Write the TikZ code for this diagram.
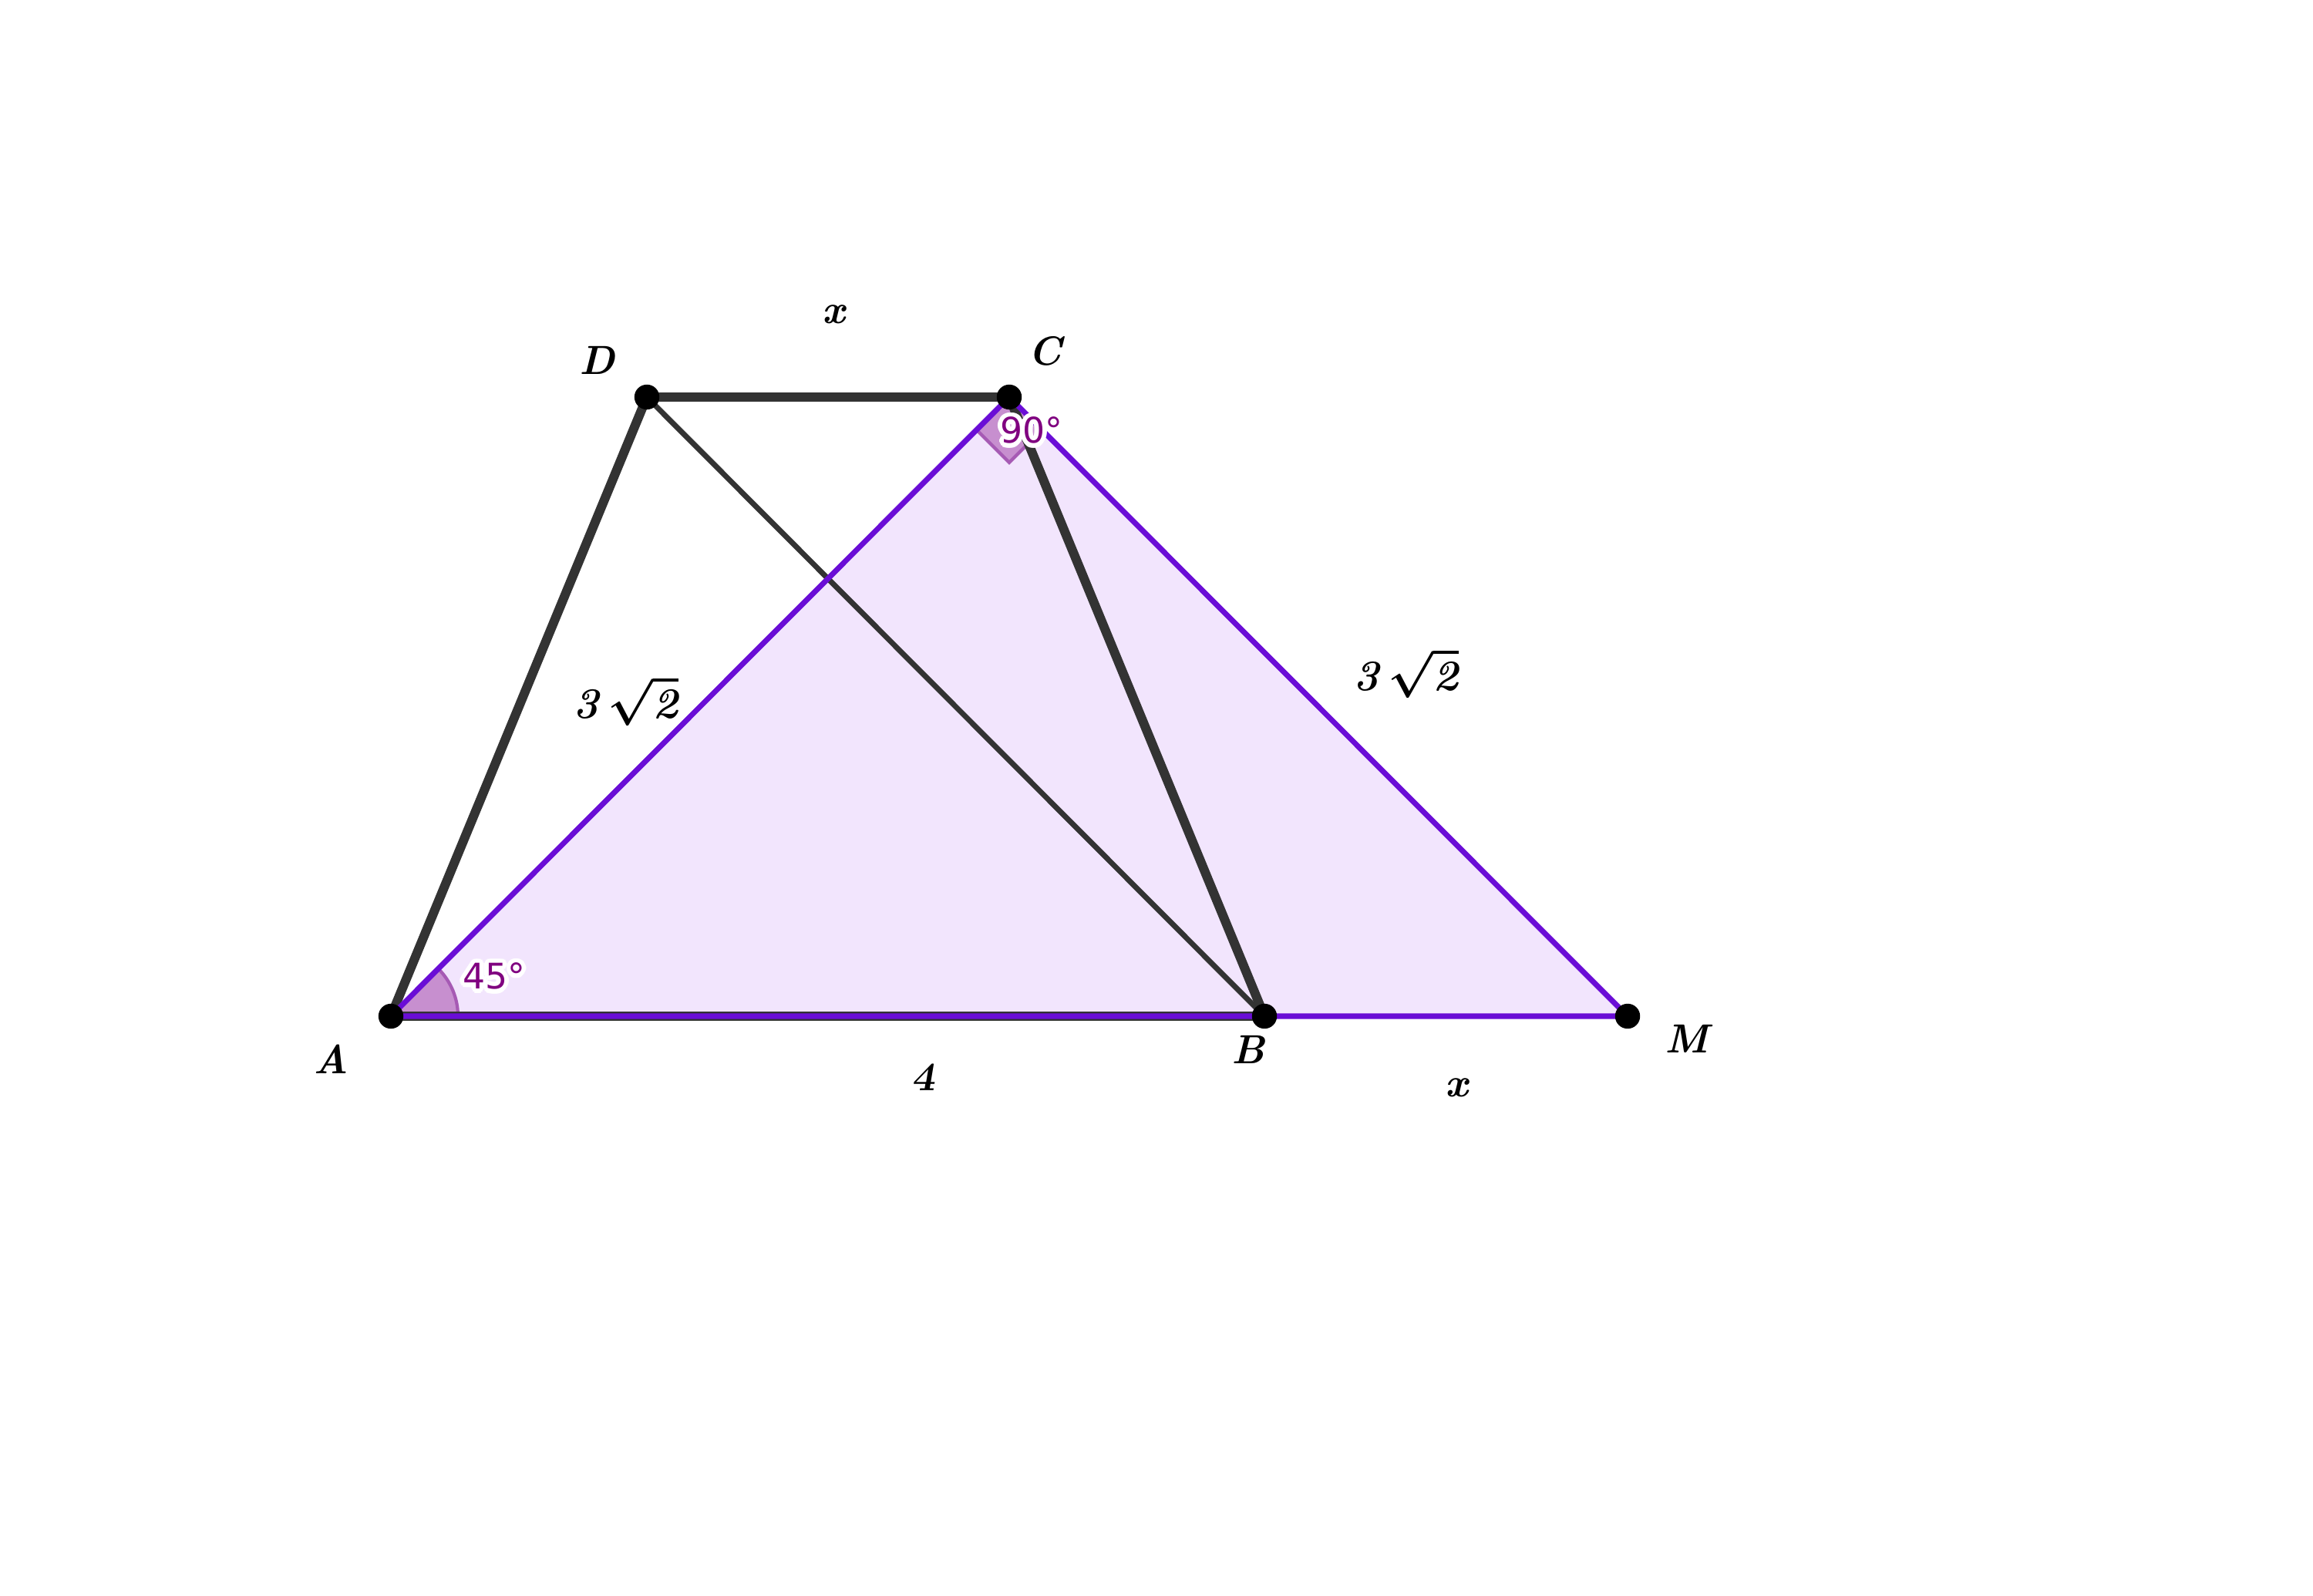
\documentclass[tikz,border=0pt]{standalone}
\usepackage{fontspec}
\newfontfamily\angfont{DejaVu Sans}
\usepackage[copies]{contour}
\contourlength{1.6pt}
\definecolor{edgepurple}{HTML}{6A0DD6}
\definecolor{fillpurple}{HTML}{F2E5FD}
\definecolor{angfill}{HTML}{C78FCF}
\definecolor{angedge}{HTML}{A65AB4}
\definecolor{angtext}{HTML}{800080}
\definecolor{segdark}{HTML}{333333}
\newcommand{\lbl}[1]{{\fontsize{15}{18}\selectfont\bfseries\itshape #1}}
\newcommand{\rootlbl}{{\fontsize{16}{19}\selectfont\boldmath\bfseries\itshape 3$\,\sqrt{\mbox{\bfseries\itshape 2}}$}}
\begin{document}
\begin{tikzpicture}[
  thickseg/.style={draw=segdark, line width=3.4pt},
  thinseg/.style={draw=segdark, line width=2pt},
  purpleedge/.style={draw=edgepurple, line width=2pt},
  angmark/.style={fill=angfill, draw=angedge, line width=1.2pt},
  angtxt/.style={text=angtext, font=\angfont\fontsize{13}{15}\selectfont},
  pt/.style={fill=black}
]
\useasboundingbox (0,0) rectangle (30,20.69);
\coordinate (A) at (5.07,7.51);
\coordinate (B) at (16.40,7.51);
\coordinate (C) at (13.09,15.54);
\coordinate (D) at (8.39,15.54);
\coordinate (M) at (21.11,7.51);
% triangle ACM
\fill[fillpurple] (A)--(C)--(M)--cycle;
% angle marks
\draw[angmark] (A)--++(0.87,0) arc[start angle=0,end angle=45,radius=0.87]--cycle;
\draw[angmark] (C)--++(225:0.6)--++(315:0.6)--++(45:0.6)--cycle;
% trapezium and diagonal
\draw[thickseg] (A)--(B);
\draw[thickseg] (A)--(D)--(C)--(B);
\draw[thinseg] (D)--(B);
\draw[purpleedge] (A)--(C)--(M)--cycle;
\foreach \p in {A,B,C,D,M}
  \filldraw[pt] (\p) circle[radius=1.55mm];
\node[angtxt] (a45) at (6.41,8.00) {\contour{white}{45°}};
\node[angtxt] (a90) at (13.38,15.08) {\contour{white}{90°}};
\node (lA) at (4.29,6.95) {\lbl{A}};
\node (lB) at (16.19,7.08) {\lbl{B}};
\node (lC) at (13.55,16.14) {\lbl{C}};
\node (lD) at (7.75,16.02) {\lbl{D}};
\node (lM) at (21.88,7.22) {\lbl{M}};
\node (xtop) at (10.81,16.61) {\lbl{x}};
\node (xbot) at (18.89,6.58) {\lbl{x}};
\node (lfour) at (11.98,6.72) {{\fontsize{15}{18}\selectfont\bfseries\slshape 4}};
\node (lAC) at (8.12,11.60) {\rootlbl};
\node (lCM) at (18.24,11.96) {\rootlbl};
\end{tikzpicture}
\end{document}
